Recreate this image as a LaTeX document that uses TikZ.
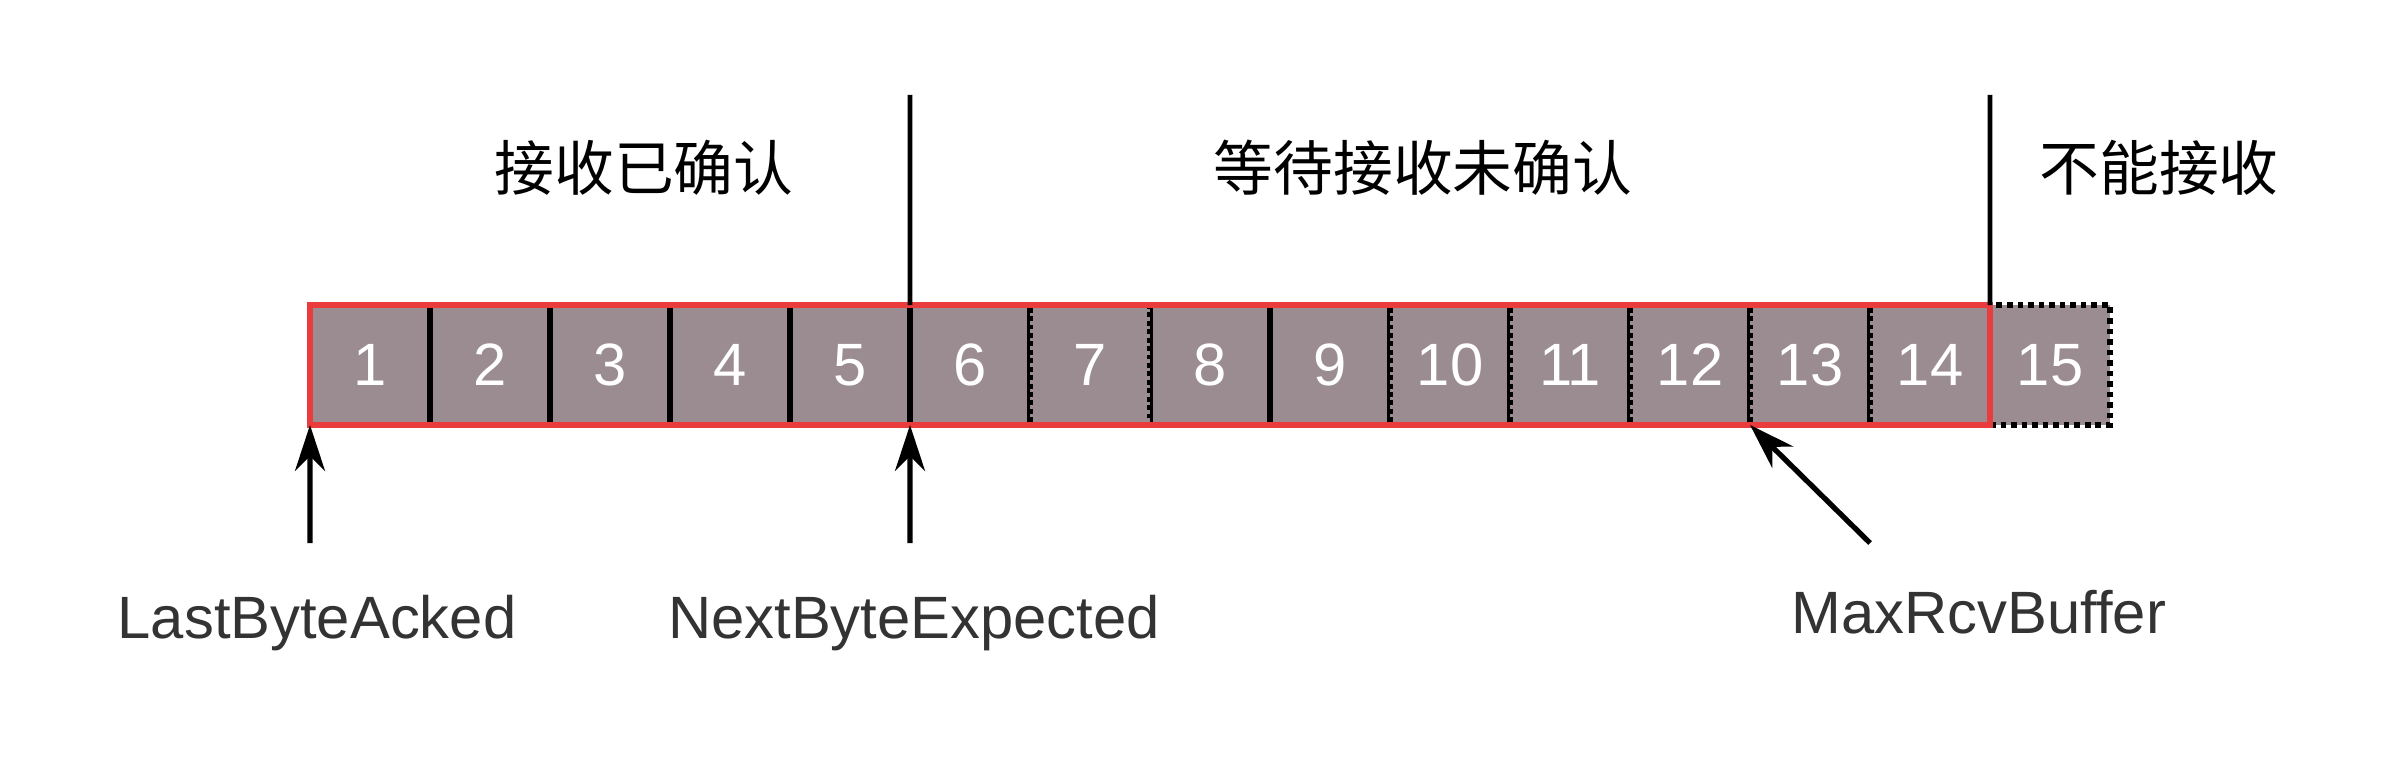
\documentclass[tikz,border=0pt]{standalone}
\usepackage{fontspec}
\setmainfont{Liberation Sans}
\newfontfamily\cjk{Noto Sans CJK SC}
\usepackage{tikz}
\usetikzlibrary{arrows.meta,positioning}

\definecolor{cellgray}{RGB}{154,140,145}
\definecolor{winred}{RGB}{234,60,60}
\definecolor{labelgray}{RGB}{51,51,51}

\begin{document}
\begin{tikzpicture}[thick]

\useasboundingbox (0,0) rectangle (24,-7.71);

\tikzstyle{cellbox} = [
    rectangle, draw=black, fill=cellgray, line width=1.5pt, minimum size=1.2cm, inner sep=0pt, outer sep=0pt, text=white, font=\fontsize{17}{17}\selectfont]
\tikzstyle{dotcell} = [dash pattern=on 1.4pt off 1pt]
\tikzstyle{outcell} = [line width=1.8pt, dash pattern=on 1.6pt off 1.4pt]
\tikzstyle{window} = [draw=winred, line width=1.8pt]
\tikzstyle{divider} = [draw=black, line width=1.4pt]
\tikzstyle{zone} = [font=\cjk\fontsize{17}{17}\selectfont, text=black]
\tikzstyle{pointer} = [-{Stealth[length=0.46cm, width=0.3cm]}, line width=1.5pt]
\tikzstyle{marker} = [anchor=base, text=labelgray, font=\fontsize{17}{17}\selectfont]


\node[cellbox] at (3.70,-3.65) (c1) {1};
\node[cellbox] at (4.90,-3.65) (c2) {2};
\node[cellbox] at (6.10,-3.65) (c3) {3};
\node[cellbox] at (7.30,-3.65) (c4) {4};
\node[cellbox] at (8.50,-3.65) (c5) {5};
\node[cellbox] at (9.70,-3.65) (c6) {6};
\node[cellbox] at (12.10,-3.65) (c8) {8};
\node[cellbox] at (13.30,-3.65) (c9) {9};

\node[cellbox, dotcell] at (10.90,-3.65) (c7) {7};
\node[cellbox, dotcell] at (14.50,-3.65) (c10) {10};
\node[cellbox, dotcell] at (15.70,-3.65) (c11) {11};
\node[cellbox, dotcell] at (16.90,-3.65) (c12) {12};
\node[cellbox, dotcell] at (18.10,-3.65) (c13) {13};
\node[cellbox, dotcell] at (19.30,-3.65) (c14) {14};
\node[cellbox, outcell] at (20.50,-3.65) (c15) {15};

\draw[window] (c1.north west) rectangle (c14.south east);


\node[zone] at (6.44,-1.68) (acked) {接收已确认};

\node[zone] at (14.23,-1.68) (waiting) {等待接收未确认};

\node[zone] at (21.59,-1.68) (refused) {不能接收};

\coordinate (cut1) at (9.10,-0.95);
\coordinate (cut2) at (19.90,-0.95);

\path[divider]
  (cut1) edge (c5.north east)
  (cut2) edge (c14.north east)
;


\node[marker] at (3.17,-6.38) (lastacked) {LastByteAcked};

\node[marker] at (9.14,-6.38) (nextexp) {NextByteExpected};

\node[marker] at (19.79,-6.33) (maxbuf) {MaxRcvBuffer};

\coordinate (ackedtail) at (3.10,-5.43);
\coordinate (nexttail) at (9.10,-5.43);
\coordinate (maxtail) at (18.70,-5.43);

\path[pointer]
  (ackedtail) edge (c1.south west)
  (nexttail) edge (c5.south east)
  (maxtail) edge (c12.south east)
;


\end{tikzpicture}
\end{document}
